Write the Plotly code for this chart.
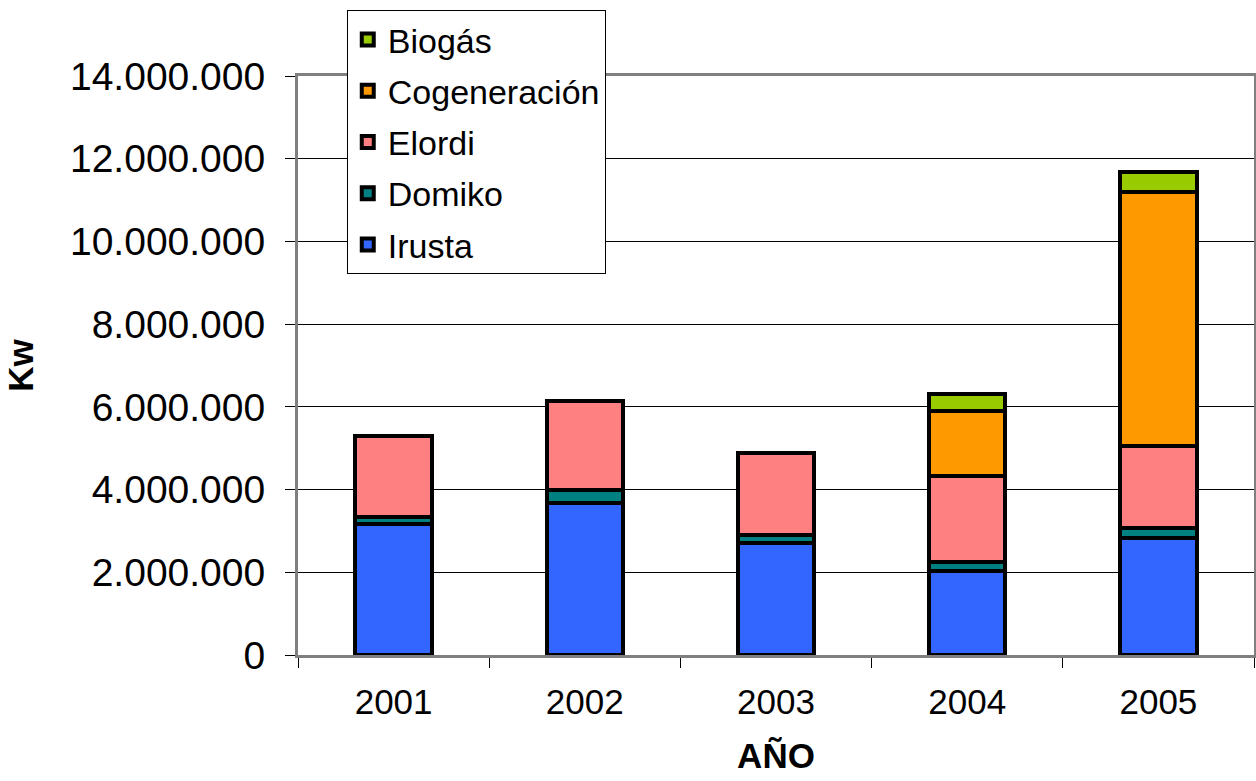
import plotly.graph_objects as go

years = ["2001", "2002", "2003", "2004", "2005"]

irusta = [3160000, 3670000, 2720000, 2030000, 2830000]
domiko = [180000, 320000, 170000, 220000, 250000]
elordi = [1960000, 2140000, 1990000, 2080000, 1980000]
cogeneracion = [0, 0, 0, 1580000, 6130000]
biogas = [0, 0, 0, 410000, 490000]

series = [
    ("Irusta", irusta, "#3366FF"),
    ("Domiko", domiko, "#008080"),
    ("Elordi", elordi, "#FF8080"),
    ("Cogeneración", cogeneracion, "#FF9900"),
    ("Biogás", biogas, "#99CC00"),
]

FONT = "Liberation Sans, Arial, sans-serif"

fig = go.Figure()
for i, (name, vals, color) in enumerate(series):
    fig.add_trace(
        go.Bar(
            x=years,
            y=vals,
            name=name,
            legendgroup=name,
            legendrank=1000 - i,  # top series listed first, as in the original
            marker=dict(color=color, line=dict(color="black", width=4)),
            width=0.4,
        )
    )

fig.update_layout(
    barmode="stack",
    width=1256,
    height=781,
    paper_bgcolor="white",
    plot_bgcolor="white",
    separators=",.",
    font=dict(family=FONT, color="black", size=35),
    margin=dict(l=298, r=2, t=76, b=126, autoexpand=False),
    legend=dict(
        traceorder="grouped",
        x=0.051,
        y=1.114,
        xanchor="left",
        yanchor="top",
        bgcolor="white",
        bordercolor="black",
        borderwidth=1,
        font=dict(size=34),
        tracegroupgap=4,
    ),
)

fig.update_xaxes(
    type="category",
    automargin=False,
    tickson="boundaries",
    ticks="outside",
    ticklen=10,
    tickcolor="black",
    showline=True,
    linecolor="#808080",
    linewidth=3,
    mirror=True,
    tickfont=dict(size=35),
    ticklabelstandoff=14,
    title=dict(text="<b>AÑO</b>", font=dict(size=35), standoff=24),
)
fig.update_yaxes(
    range=[0, 14000000],
    dtick=2000000,
    tickformat=",d",
    automargin=False,
    showgrid=True,
    gridcolor="black",
    gridwidth=1,
    ticks="outside",
    ticklen=10,
    tickcolor="black",
    showline=True,
    linecolor="#808080",
    linewidth=3,
    mirror=True,
    zeroline=False,
    tickfont=dict(size=39),
    ticklabelstandoff=12,
    title=dict(text="<b>Kw</b>", font=dict(size=35), standoff=26),
)

# drop the default page margin so the figure sits flush with the window
fig.write_html(
    "out.html",
    config={"displayModeBar": False},
    post_script="document.body.style.margin='0';",
)
